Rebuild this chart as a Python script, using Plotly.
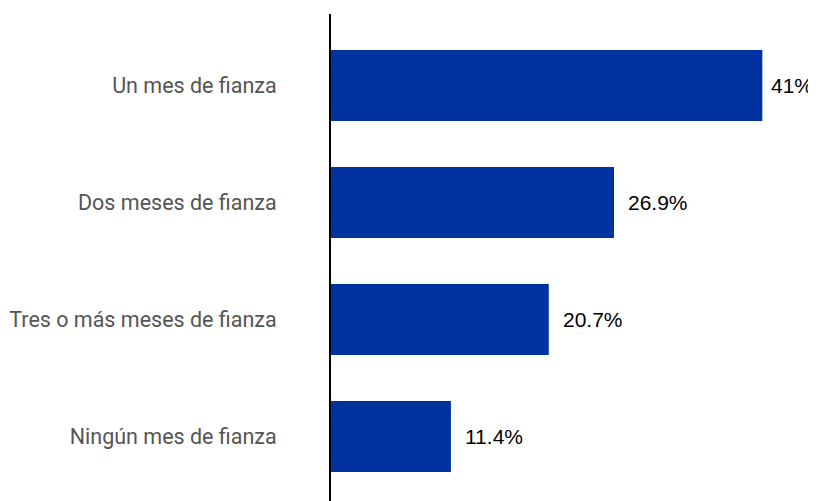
import plotly.graph_objects as go

categories = ["Un mes de fianza", "Dos meses de fianza", "Tres o más meses de fianza", "Ningún mes de fianza"]
values = [41, 26.9, 20.7, 11.4]
labels = ["41%", "26.9%", "20.7%", "11.4%"]

fig = go.Figure(go.Bar(
    x=values, y=categories, orientation="h",
    marker=dict(color="#0033A0", line=dict(width=0)),
    hoverinfo="skip",
))

vmax = max(values)
for v, c, t in zip(values, categories, labels):
    fig.add_annotation(
        x=v, y=c, text=t, showarrow=False,
        xanchor="left", yanchor="middle",
        xshift=7 if v == vmax else 12,
        font=dict(family="Liberation Sans, Arial, sans-serif", size=21, color="#000000"),
    )

# page body has an 8px default margin, so the figure is sized to fill the remaining window
fig.update_layout(
    width=808, height=493,
    margin=dict(l=323, r=0, t=6, b=0, autoexpand=False),
    paper_bgcolor="white", plot_bgcolor="white",
    bargap=0.393,
    showlegend=False,
    xaxis=dict(range=[0, 46.1], visible=False, showgrid=False, zeroline=False),
    yaxis=dict(
        range=[3.551, -0.611],
        showgrid=False, zeroline=False,
        showline=True, linecolor="#000000", linewidth=2,
        ticks="", ticklabelstandoff=48,
        tickfont=dict(family="Roboto, sans-serif", size=21.5, color="#555555"),
    ),
)

fig.write_html("out.html")
